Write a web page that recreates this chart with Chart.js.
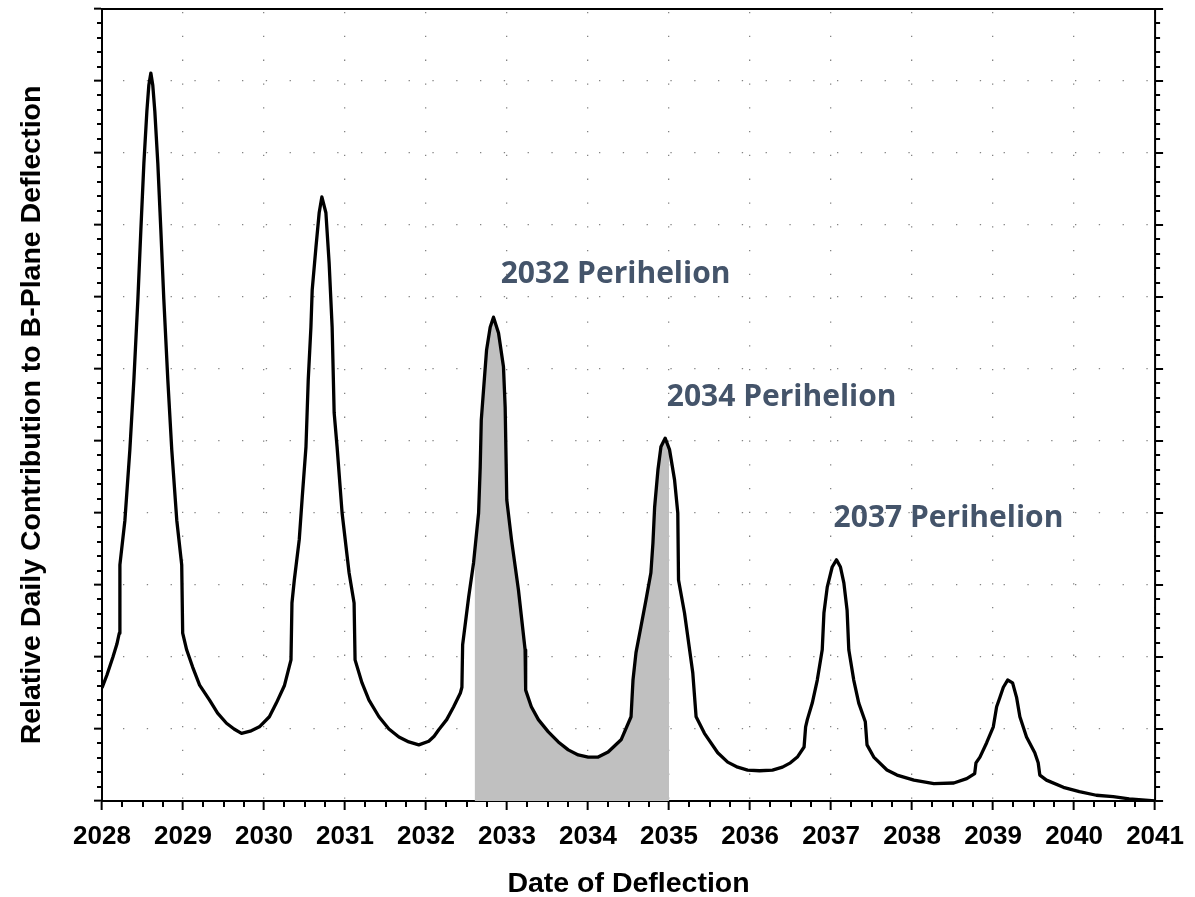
<!DOCTYPE html>
<html><head><meta charset="utf-8">
<script src="https://cdn.jsdelivr.net/npm/chart.js@4.4.1/dist/chart.umd.min.js"></script>
<style>html,body{margin:0;padding:0;background:#fff;}#wrap{width:1195px;height:897px;}</style>
</head><body><div id="wrap"><canvas id="c" width="1195" height="897"></canvas></div>
<script>
// ---- data ----
const years = [
2028.000,2028.061,2028.135,2028.184,2028.213,2028.221,2028.283,2028.344,2028.394,2028.443,
2028.480,2028.517,2028.554,2028.578,2028.603,2028.627,2028.652,2028.689,2028.726,2028.763,
2028.812,2028.861,2028.923,2028.984,2028.996,2029.045,2029.119,2029.205,2029.328,2029.427,
2029.537,2029.630,2029.722,2029.830,2029.943,2030.066,2030.152,2030.251,2030.333,2030.345,
2030.374,2030.435,2030.472,2030.518,2030.546,2030.579,2030.595,2030.641,2030.681,2030.714,
2030.764,2030.804,2030.841,2030.866,2030.902,2030.964,2031.050,2031.112,2031.124,2031.210,
2031.296,2031.419,2031.542,2031.665,2031.788,2031.911,2032.034,2032.100,2032.157,2032.255,
2032.341,2032.424,2032.443,2032.452,2032.526,2032.587,2032.649,2032.669,2032.682,2032.710,
2032.747,2032.792,2032.833,2032.895,2032.956,2032.977,2032.997,2033.055,2033.141,2033.223,
2033.230,2033.300,2033.387,2033.510,2033.633,2033.756,2033.879,2034.002,2034.125,2034.248,
2034.408,2034.531,2034.555,2034.592,2034.653,2034.715,2034.776,2034.801,2034.822,2034.863,
2034.900,2034.952,2035.006,2035.068,2035.108,2035.117,2035.191,2035.293,2035.334,2035.437,
2035.601,2035.724,2035.847,2035.970,2036.117,2036.277,2036.400,2036.498,2036.584,2036.667,
2036.686,2036.707,2036.768,2036.830,2036.891,2036.912,2036.953,2037.014,2037.067,2037.116,
2037.158,2037.198,2037.219,2037.280,2037.342,2037.423,2037.444,2037.527,2037.690,2037.814,
2038.023,2038.269,2038.515,2038.675,2038.773,2038.789,2038.838,2038.921,2039.003,2039.044,
2039.085,2039.127,2039.180,2039.241,2039.290,2039.331,2039.413,2039.515,2039.557,2039.577,
2039.659,2039.868,2040.065,2040.274,2040.483,2040.680,2041.000];
const contribution = [
1.57,1.75,2.00,2.18,2.33,3.28,3.90,4.88,5.86,6.97,
7.94,8.86,9.58,9.94,10.11,9.94,9.58,8.86,7.94,6.97,
5.86,4.88,3.90,3.28,2.33,2.10,1.86,1.61,1.40,1.22,
1.08,1.00,0.94,0.97,1.03,1.17,1.36,1.60,1.96,2.75,
3.07,3.63,4.22,4.92,5.85,6.58,7.10,7.69,8.17,8.39,
8.17,7.47,6.58,5.39,4.92,4.00,3.17,2.75,1.96,1.64,
1.40,1.17,1.00,0.89,0.82,0.78,0.83,0.90,0.99,1.13,
1.31,1.50,1.58,2.17,2.83,3.31,4.00,4.64,5.29,5.71,
6.26,6.58,6.72,6.50,6.03,5.47,4.18,3.63,2.93,2.10,
1.54,1.31,1.13,0.96,0.82,0.71,0.64,0.61,0.61,0.68,
0.85,1.17,1.68,2.06,2.42,2.79,3.17,3.58,4.08,4.60,
4.92,5.04,4.88,4.46,4.00,3.07,2.61,1.78,1.17,0.94,
0.67,0.54,0.47,0.43,0.42,0.43,0.47,0.53,0.61,0.75,
1.03,1.13,1.36,1.68,2.10,2.61,2.97,3.25,3.35,3.25,
3.03,2.65,2.10,1.68,1.36,1.10,0.78,0.61,0.43,0.36,
0.29,0.24,0.25,0.31,0.38,0.53,0.61,0.81,1.03,1.31,
1.44,1.58,1.68,1.64,1.44,1.17,0.89,0.67,0.53,0.36,
0.29,0.19,0.13,0.08,0.06,0.03,0.00];
const xTickYears = [2028,2029,2030,2031,2032,2033,2034,2035,2036,2037,2038,2039,2040,2041];
const shadeRange = [2032.6, 2035.0];
const xTitle = 'Date of Deflection';
const yTitle = 'Relative Daily Contribution to B-Plane Deflection';
const annotationLabels = ['2032 Perihelion','2034 Perihelion','2037 Perihelion'];
const annotationYears  = [2034.34, 2036.39, 2038.45];
const annotationValues = [7.31, 5.60, 3.93];

// ---- helpers ----
function valueAt(x){
  for (let i=1;i<years.length;i++){
    if (years[i] >= x){
      const t=(x-years[i-1])/(years[i]-years[i-1]);
      return contribution[i-1]+t*(contribution[i]-contribution[i-1]);
    }
  }
  return contribution[contribution.length-1];
}
const mainData = years.map((x,i)=>({x, y: contribution[i]}));
const shadeData = [{x: shadeRange[0], y: valueAt(shadeRange[0])}]
  .concat(mainData.filter(p=>p.x>shadeRange[0] && p.x<shadeRange[1]))
  .concat([{x: shadeRange[1], y: valueAt(shadeRange[1])}]);

const FONT = '"Liberation Sans", Arial, sans-serif';

const framePlugin = {
  id: 'frame',
  afterDraw(chart){
    const {ctx, chartArea:{left,right,top,bottom}, scales:{x,y}} = chart;
    ctx.save();
    ctx.strokeStyle = '#000';
    ctx.lineWidth = 2;
    ctx.beginPath();
    ctx.moveTo(left, top); ctx.lineTo(right, top);
    ctx.moveTo(right, top); ctx.lineTo(right, bottom);
    for (let k=0; k<=(x.max-x.min)*4; k++){
      if (k%4===0) continue;
      const px = Math.round(x.getPixelForValue(x.min + k/4));
      ctx.moveTo(px, bottom); ctx.lineTo(px, bottom+6);
    }
    for (let k=0; k<=(y.max-y.min)*5; k++){
      const py = Math.round(y.getPixelForValue(y.min + k/5));
      if (k%5===0){
        ctx.moveTo(right, py); ctx.lineTo(right+8, py);
      } else {
        ctx.moveTo(left-5, py); ctx.lineTo(left, py);
        ctx.moveTo(right, py); ctx.lineTo(right+5, py);
      }
    }
    ctx.stroke();
    // y axis title
    ctx.fillStyle = '#000';
    ctx.font = 'bold 28.5px ' + FONT;
    ctx.textAlign = 'center';
    ctx.textBaseline = 'middle';
    ctx.save();
    ctx.translate(32, (top + bottom) / 2 + 10);
    ctx.rotate(-Math.PI / 2);
    ctx.fillText(yTitle, 0, 0);
    ctx.restore();
    // annotations
    ctx.fillStyle = '#44546A';
    ctx.font = 'bold 30px "Open Sans", "Noto Sans", sans-serif';
    annotationLabels.forEach((t,i)=>{
      ctx.fillText(t, x.getPixelForValue(annotationYears[i]), y.getPixelForValue(annotationValues[i]));
    });
    ctx.restore();
  }
};

new Chart(document.getElementById('c').getContext('2d'), {
  type: 'line',
  data: {
    datasets: [
      { label: 'Relative daily contribution', data: mainData, borderColor: '#000', borderWidth: 3.3,
        pointRadius: 0, fill: false, tension: 0, borderJoinStyle: 'round', order: 0 },
      { label: 'Shaded interval', data: shadeData, borderWidth: 0, borderColor: 'rgba(0,0,0,0)',
        backgroundColor: '#c0c0c0', fill: 'origin', pointRadius: 0, tension: 0, order: 1 }
    ]
  },
  options: {
    responsive: false, animation: false, devicePixelRatio: 1,
    layout: { padding: { top: 9, right: 36, bottom: 0, left: 0 } },
    plugins: { legend: { display: false }, tooltip: { enabled: false } },
    scales: {
      x: {
        type: 'linear', min: xTickYears[0], max: xTickYears[xTickYears.length-1],
        afterBuildTicks(s){ s.ticks = xTickYears.map(v=>({value:v})); },
        afterFit(s){ s.height = 96; },
        ticks: { autoSkip: false, maxRotation: 0, padding: 11, color: '#000',
          font: { family: FONT, weight: 'bold', size: 26 }, callback: v => String(v) },
        grid: { color: 'rgba(90,90,90,0.75)', lineWidth: 1.3, tickLength: 9, tickColor: '#000', tickWidth: 2 },
        border: { display: true, color: '#000', width: 2, dash: [1.3, 22.5], dashOffset: 20.8 },
        title: { display: true, text: xTitle, color: '#000',
          font: { family: FONT, weight: 'bold', size: 28.5, lineHeight: 1.2 }, padding: { top: 0, bottom: -4 } }
      },
      y: {
        min: 0, max: 11,
        afterFit(s){ s.width = 102; },
        ticks: { stepSize: 1, display: false },
        grid: { color: 'rgba(90,90,90,0.75)', lineWidth: 1.3, tickLength: 8, tickColor: '#000', tickWidth: 2 },
        border: { display: true, color: '#000', width: 2, dash: [1.3, 22.5], dashOffset: 3.8 },
        title: { display: false }
      }
    }
  },
  plugins: [framePlugin]
});
</script></body></html>
